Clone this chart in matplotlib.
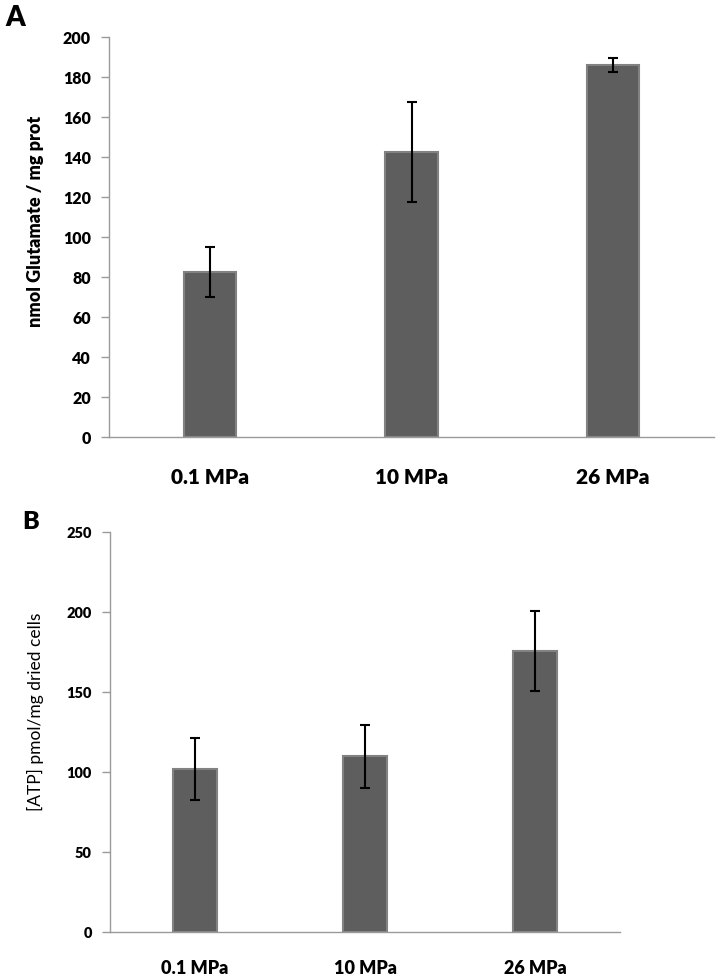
import numpy as np
import matplotlib
matplotlib.use("Agg")
import matplotlib.pyplot as plt

plt.rcParams["font.family"] = ["Lato", "DejaVu Sans"]

CATEGORIES = ["0.1 MPa", "10 MPa", "26 MPa"]

GLUTAMATE = [82.5, 142.5, 186.0]
GLUTAMATE_ERR = [12.5, 25.0, 3.5]

ATP = [102.0, 110.0, 176.0]
ATP_ERR = [19.5, 19.7, 25.0]

BAR_FACE = "#5e5e5e"
BAR_EDGE = "#828282"
AXIS_GRAY = "#9a9a9a"
HEAVY = "heavy"


def style_axes(ax, ymax, ystep, ytick_size, xtick_size):
    ax.set_ylim(0, ymax)
    ax.set_yticks(np.arange(0, ymax + 1, ystep))
    ax.set_xlim(-0.5, len(CATEGORIES) - 0.5)
    ax.set_xticks(np.arange(len(CATEGORIES)))
    ax.set_xticklabels(CATEGORIES, fontsize=xtick_size, fontweight=HEAVY)
    for lab in ax.get_yticklabels():
        lab.set_fontsize(ytick_size)
        lab.set_fontweight(HEAVY)
    for side in ("top", "right"):
        ax.spines[side].set_visible(False)
    for side in ("left", "bottom"):
        ax.spines[side].set_color(AXIS_GRAY)
        ax.spines[side].set_linewidth(1.0)
    ax.tick_params(axis="y", length=6, width=1.0, color=AXIS_GRAY, pad=7)
    ax.tick_params(axis="x", length=0, pad=22)


def draw_bars(ax, values, errors, width):
    x = np.arange(len(values))
    ax.bar(x, values, width, color=BAR_FACE, edgecolor=BAR_EDGE, linewidth=1.5, zorder=2)
    ax.errorbar(x, values, yerr=errors, fmt="none", ecolor="black",
                elinewidth=1.5, capsize=3.5, capthick=1.5, zorder=3)


fig = plt.figure(figsize=(7.19, 9.80), dpi=100)

# Panel A
ax_a = fig.add_axes([109 / 719, 543 / 980, 605 / 719, 400 / 980])
draw_bars(ax_a, GLUTAMATE, GLUTAMATE_ERR, 0.26)
style_axes(ax_a, 200, 20, 11.5, 15)
ax_a.set_ylabel("nmol Glutamate / mg prot", fontsize=13, fontweight=HEAVY)
ax_a.yaxis.set_label_coords(-0.107, 0.54)

# Panel B
ax_b = fig.add_axes([110 / 719, 47.7 / 980, 510 / 719, 400 / 980])
draw_bars(ax_b, ATP, ATP_ERR, 0.255)
style_axes(ax_b, 250, 50, 10.5, 13)
ax_b.tick_params(axis="x", pad=20)
ax_b.set_ylabel("[ATP] pmol/mg dried cells", fontsize=12.5)
ax_b.yaxis.set_label_coords(-0.13, 0.55)

fig.text(5 / 719, 1 - 5 / 980, "A", fontsize=20, fontweight=HEAVY, va="top", ha="left")
fig.text(22 / 719, 1 - 511 / 980, "B", fontsize=18, fontweight=HEAVY, va="top", ha="left")

fig.savefig("out.png", dpi=100)
